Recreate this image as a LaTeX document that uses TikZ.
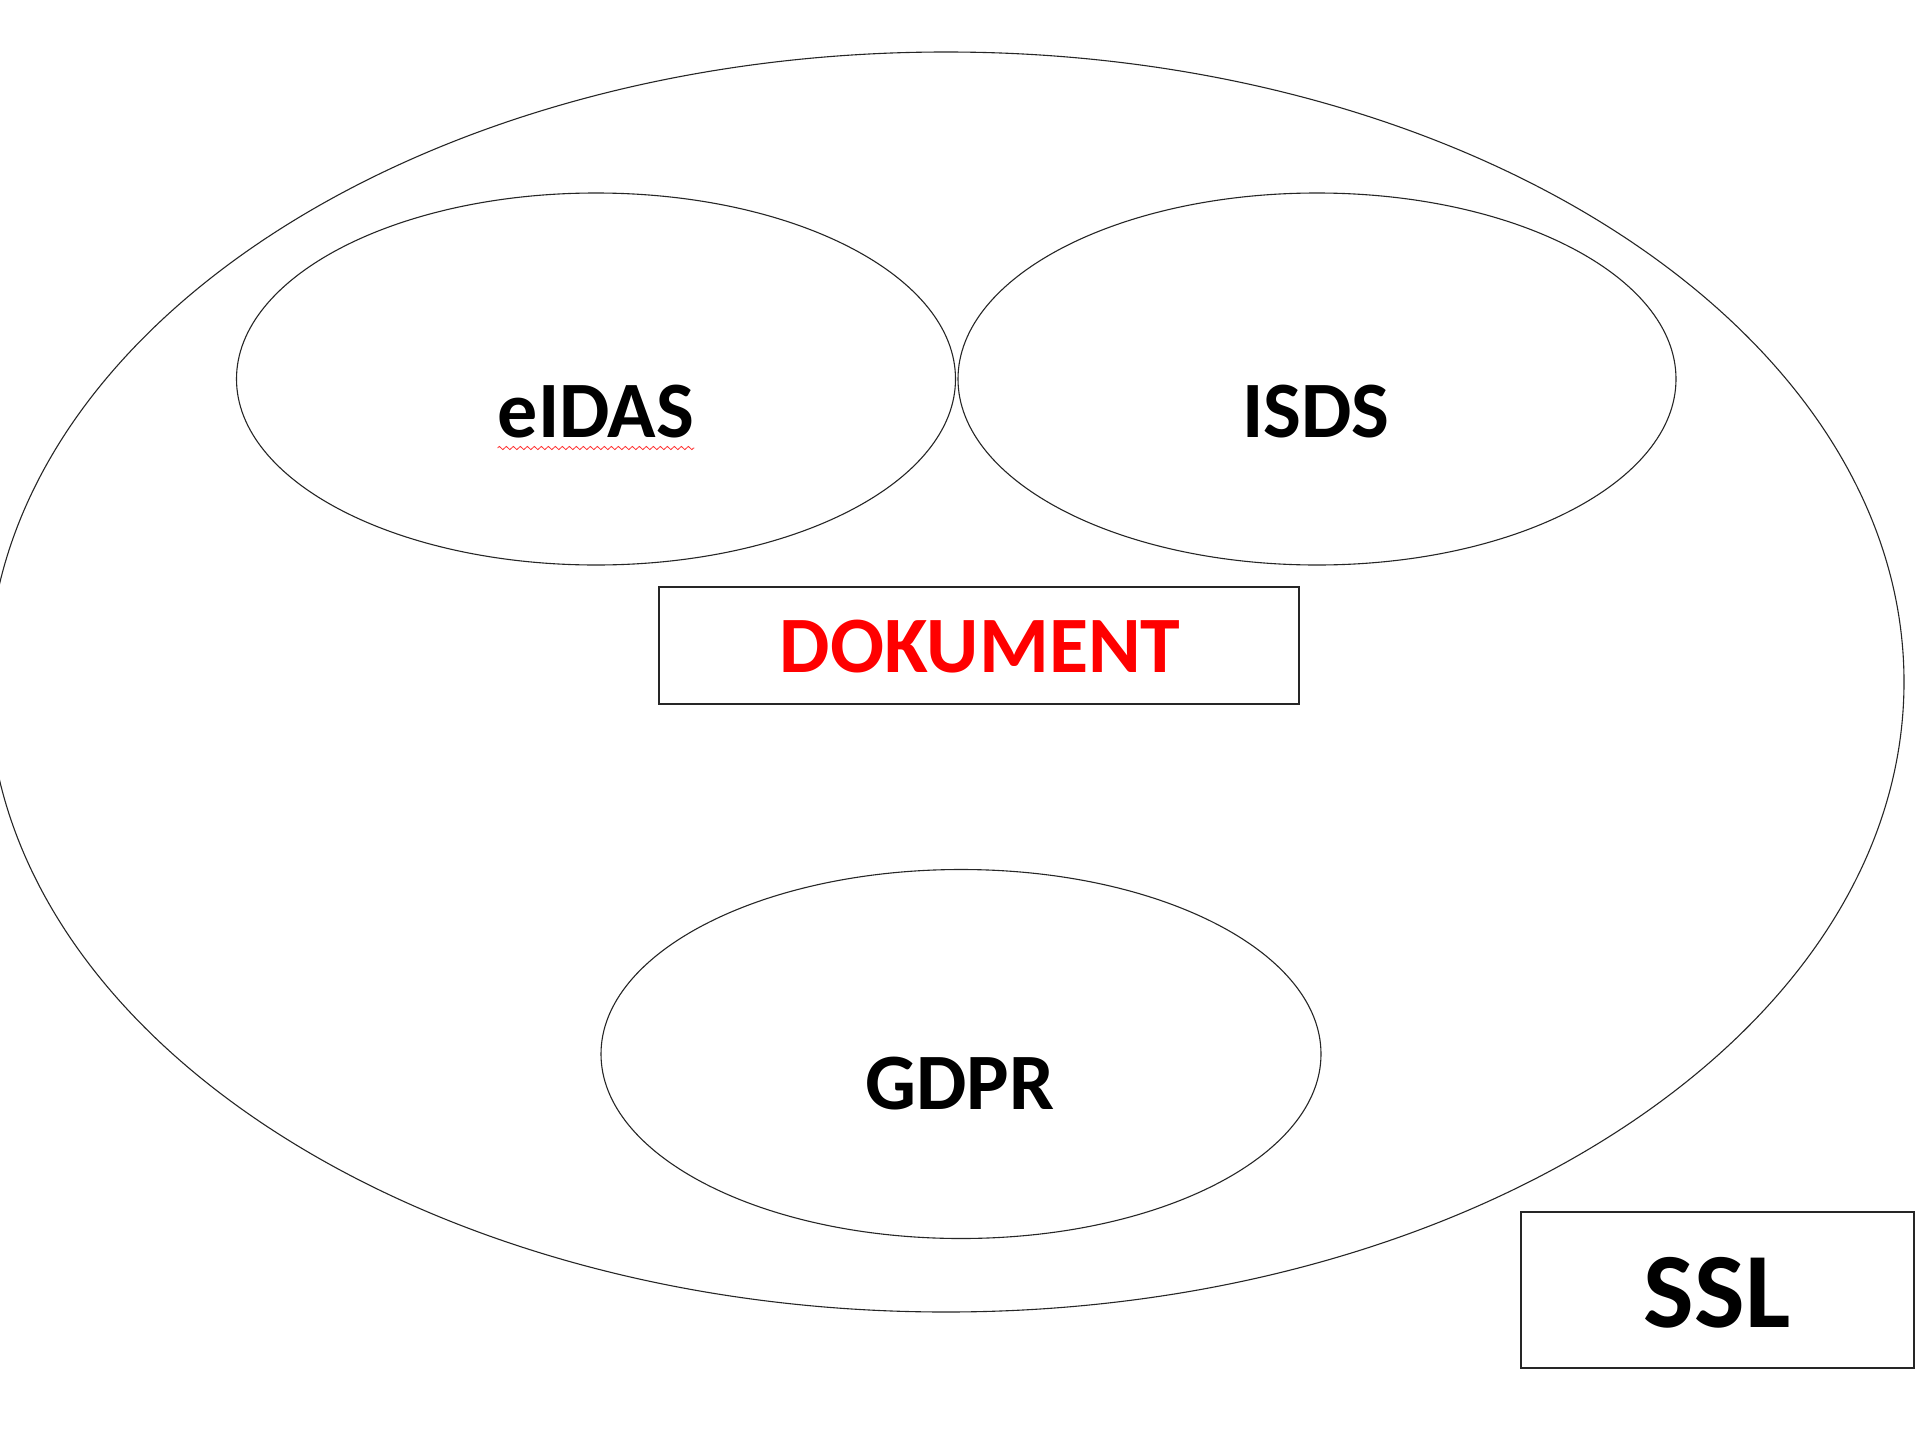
\documentclass[tikz,border=0pt]{standalone}
\usepackage{fontspec}
\setmainfont{Carlito}
\usetikzlibrary{shapes.geometric,decorations.pathmorphing}
\begin{document}
\begin{tikzpicture}[x=1pt,y=-1pt,
  ovalshape/.style={draw=black!85, line width=1.1pt, ellipse, inner sep=0pt, outer sep=0pt},
  boxshape/.style={draw=black!85, line width=1.4pt, rectangle, inner sep=0pt, outer sep=0pt},
  lbl/.style={anchor=base, inner sep=0pt, font=\fontsize{80}{96}\selectfont\bfseries},
  biglbl/.style={anchor=base, inner sep=0pt, font=\fontsize{107}{128}\selectfont\bfseries}]
\fill[white] (0,0) rectangle (1920,1440);
\useasboundingbox (0,0) rectangle (1920,1440);
% outer ellipse
\node[ovalshape, minimum width=1916pt, minimum height=1260pt] (outer) at (946,682) {};
% inner ellipses
\node[ovalshape, minimum width=719pt, minimum height=372pt] (eidasov) at (596,379) {};
\node[ovalshape, minimum width=718pt, minimum height=372pt] (isdsov) at (1317,379) {};
\node[ovalshape, minimum width=720pt, minimum height=369pt] (gdprov) at (961,1054) {};
% boxes
\node[boxshape, minimum width=640pt, minimum height=117pt] (dokbox) at (979,645.5) {};
\node[boxshape, minimum width=393pt, minimum height=156pt] (sslbox) at (1717.5,1290) {};
% labels
\node[lbl] (teidas) at (596,437) {eIDAS};
\node[lbl] (tisds) at (1316,437) {ISDS};
\node[lbl] (tgdpr) at (960,1109) {GDPR};
\node[lbl, text={rgb,255:red,255;green,0;blue,0}] (tdok) at (980,672) {DOKUMENT};
\node[biglbl] (tssl) at (1717,1327) {SSL};
% spell-check underline
\draw[red!80, line width=0.8pt, decorate, decoration={zigzag, segment length=7pt, amplitude=1.6pt}]
  ([yshift=-11pt]teidas.base west) -- ([yshift=-11pt]teidas.base east);
\end{tikzpicture}
\end{document}
